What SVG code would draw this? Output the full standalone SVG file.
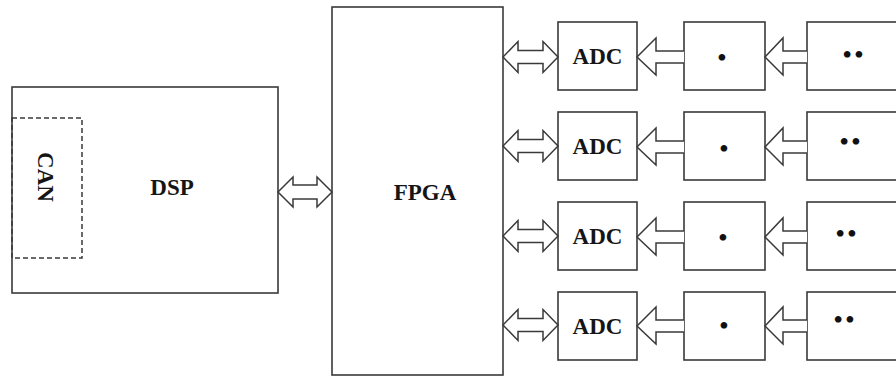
<svg xmlns="http://www.w3.org/2000/svg" width="896" height="377" viewBox="0 0 896 377">
<style>
.box{fill:#fff;stroke:#3a3a3a;stroke-width:1.6}
.dash{fill:none;stroke:#3a3a3a;stroke-width:1.5;stroke-dasharray:5 3}
.arr{fill:#fff;stroke:#3a3a3a;stroke-width:1.5;stroke-linejoin:miter}
.lbl{font-family:"Liberation Serif","Times New Roman",serif;font-weight:bold;font-size:23px;fill:#151515;text-anchor:middle;dominant-baseline:central}
.dot{font-family:"Liberation Serif","Times New Roman",serif;font-size:28px;fill:#111;text-anchor:middle;dominant-baseline:central}
.dd{letter-spacing:2px}
</style>
<rect width="896" height="377" fill="#fff"/>
<g id="dsp">
<rect class="box" x="12" y="87" width="266" height="206"/>
<text class="lbl" x="172" y="187">DSP</text>
</g>
<g id="can">
<rect class="dash" x="12" y="118" width="70" height="140"/>
<text class="lbl" transform="translate(45 177) rotate(90)">CAN</text>
</g>
<g id="fpga">
<rect class="box" x="332" y="7" width="171" height="368"/>
<text class="lbl" x="425" y="192">FPGA</text>
</g>
<g id="adc1"><rect class="box" x="558" y="22" width="79" height="68"/><text class="lbl" x="597.5" y="56">ADC</text></g>
<g id="adc2"><rect class="box" x="558" y="112" width="79" height="68"/><text class="lbl" x="597.5" y="146">ADC</text></g>
<g id="adc3"><rect class="box" x="558" y="202" width="79" height="68"/><text class="lbl" x="597.5" y="236">ADC</text></g>
<g id="adc4"><rect class="box" x="558" y="292" width="79" height="68"/><text class="lbl" x="597.5" y="326">ADC</text></g>
<g id="mid1"><rect class="box" x="684" y="22" width="81" height="68"/><text class="dot" x="722" y="57">•</text></g>
<g id="mid2"><rect class="box" x="684" y="112" width="81" height="68"/><text class="dot" x="724" y="148">•</text></g>
<g id="mid3"><rect class="box" x="684" y="202" width="81" height="68"/><text class="dot" x="723" y="237">•</text></g>
<g id="mid4"><rect class="box" x="684" y="292" width="81" height="68"/><text class="dot" x="724" y="325">•</text></g>
<g id="src1"><rect class="box" x="807" y="22" width="100" height="68"/><text class="dot dd" x="854" y="54">••</text></g>
<g id="src2"><rect class="box" x="807" y="112" width="100" height="68"/><text class="dot dd" x="851" y="141">••</text></g>
<g id="src3"><rect class="box" x="807" y="202" width="100" height="68"/><text class="dot dd" x="847" y="233">••</text></g>
<g id="src4"><rect class="box" x="807" y="292" width="100" height="68"/><text class="dot dd" x="845" y="319">••</text></g>
<g id="connectors">
<polygon class="arr" points="278,192 293,177 293,185 317,185 317,177 332,192 317,207 317,199 293,199 293,207"/>
<polygon class="arr" points="503,57 518,41.5 518,50.5 543,50.5 543,41.5 558,57 543,72.5 543,63.5 518,63.5 518,72.5"/>
<polygon class="arr" points="503,146 518,130.5 518,139.5 543,139.5 543,130.5 558,146 543,161.5 543,152.5 518,152.5 518,161.5"/>
<polygon class="arr" points="503,236 518,220.5 518,229.5 543,229.5 543,220.5 558,236 543,251.5 543,242.5 518,242.5 518,251.5"/>
<polygon class="arr" points="503,325 518,309.5 518,318.5 543,318.5 543,309.5 558,325 543,340.5 543,331.5 518,331.5 518,340.5"/>
<polyline class="arr" points="684,51 656,51 656,38 637,57 656,75 656,63 684,63"/>
<polyline class="arr" points="684,141 656,141 656,128 637,147 656,165 656,153 684,153"/>
<polyline class="arr" points="684,231 656,231 656,218 637,237 656,255 656,243 684,243"/>
<polyline class="arr" points="684,320 656,320 656,307 637,326 656,344 656,332 684,332"/>
<polyline class="arr" points="807,51 783,51 783,38 765,57 783,75 783,63 807,63"/>
<polyline class="arr" points="807,141 783,141 783,128 765,147 783,165 783,153 807,153"/>
<polyline class="arr" points="807,231 783,231 783,218 765,237 783,255 783,243 807,243"/>
<polyline class="arr" points="807,320 783,320 783,307 765,326 783,344 783,332 807,332"/>
</g>
</svg>
